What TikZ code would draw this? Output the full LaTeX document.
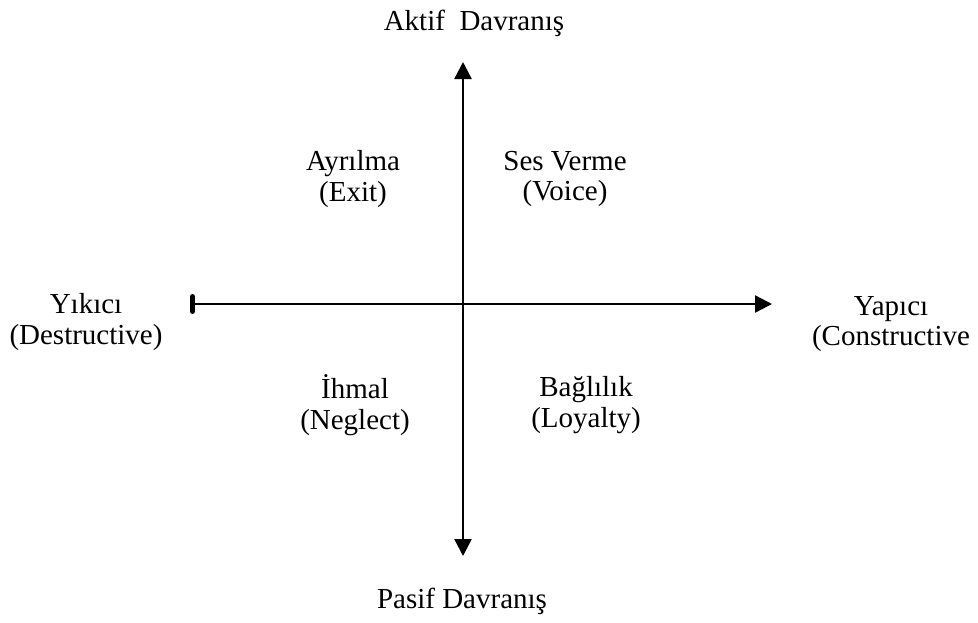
\documentclass[tikz,border=0pt]{standalone}
\usepackage{fontspec}
\setmainfont{Liberation Serif}
\usetikzlibrary{arrows.meta, positioning}

\begin{document}
\begin{tikzpicture}[
            x=0.5pt, y=-0.5pt,
            lbl/.style={align=center, inner sep=0pt, font=\fontsize{14.5}{15.2}\selectfont},
            axis/.style={line width=1.2pt, black}
        ]
            \useasboundingbox (0,0) rectangle (978,622);
            \coordinate (top) at (463,62);
            \coordinate (bot) at (463,556);
            \coordinate (lft) at (190,304);
            \coordinate (rgt) at (772,304);

            \node[lbl, anchor=base] (aktif) at (474,30) {Aktif\ \ Davranış};
            \node[lbl, anchor=base] (pasif) at (462,608) {Pasif Davranış};
            \node[lbl] (exit) at (353,179) {Ayrılma\\(Exit)};
            \node[lbl] (voice) at (565,179) {Ses Verme\\(Voice)};
            \node[lbl] (destr) at (86,322) {Yıkıcı\\(Destructive)};
            \node[lbl] (constr) at (891,324) {Yapıcı\\(Constructive};
            \node[lbl] (neglect) at (355,405) {İhmal\\(Neglect)};
            \node[lbl] (loyal) at (586,405) {Bağlılık\\(Loyalty)};

            \draw[axis, {Triangle[length=8.5pt, width=8.5pt]}-{Triangle[length=8.5pt, width=8.5pt]}] (bot) -- (top);
            \draw[axis, {Bar[width=7.5pt, line width=2.5pt, round]}-{Triangle[length=8.5pt, width=8.5pt]}] (lft) -- (rgt);
        \end{tikzpicture}
\end{document}
